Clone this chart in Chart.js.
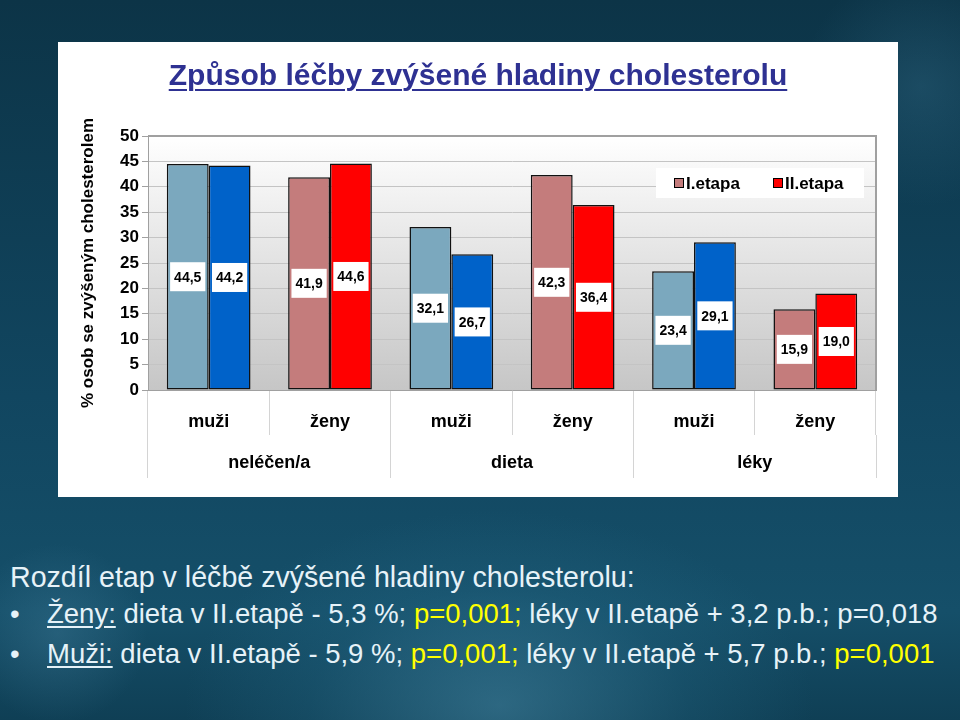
<!DOCTYPE html>
<html>
<head>
<meta charset="utf-8">
<script src="https://cdn.jsdelivr.net/npm/chart.js@4.4.1/dist/chart.umd.min.js"></script>
<style>
  html, body { margin: 0; padding: 0; }
  body {
    width: 960px; height: 720px; overflow: hidden; position: relative;
    font-family: "Liberation Sans", Arial, sans-serif;
    background:
      radial-gradient(ellipse 420px 260px at 52% 98%, rgba(80,150,180,0.45) 0%, rgba(40,110,140,0.25) 45%, rgba(0,0,0,0) 75%),
      radial-gradient(circle 90px at 6% 88%, rgba(70,130,160,0.35) 0%, rgba(0,0,0,0) 100%),
      radial-gradient(circle 120px at 96% 12%, rgba(60,120,150,0.3) 0%, rgba(0,0,0,0) 100%),
      linear-gradient(180deg, #0c3447 0%, #114660 55%, #154f69 85%, #0f3f55 100%);
  }
  #panel { position: absolute; left: 58px; top: 42px; width: 840px; height: 455px; background: #fff; }
  #title {
    position: absolute; left: 0; top: 16px; width: 100%; text-align: center;
    font: bold 30px "Liberation Sans", Arial, sans-serif; color: #2e3192;
    text-decoration: underline; text-underline-offset: 4px; text-decoration-thickness: 2px;
  }
  #chart { position: absolute; left: 0; top: 0; }
  .note { position: absolute; left: 10px; color: #e6f2f8; font-size: 27.5px; line-height: 32px; white-space: nowrap; }
  .head { font-size: 28.6px; }
  .bullet { position: absolute; left: 0; }
  .txt { position: absolute; left: 37px; }
  .u { text-decoration: underline; text-underline-offset: 3px; }
  .y { color: #ffff00; }
</style>
</head>
<body>
<div id="panel">
  <canvas id="chart" width="840" height="455"></canvas>
  <div id="title">Způsob léčby zvýšené hladiny cholesterolu</div>
</div>
<div class="note head" style="top:561px">Rozdíl etap v léčbě zvýšené hladiny cholesterolu:</div>
<div class="note" style="top:598px"><span class="bullet">•</span><span class="txt"><span class="u">Ženy:</span> dieta v II.etapě - 5,3 %; <span class="y">p=0,001;</span> léky v II.etapě + 3,2 p.b.; p=0,018</span></div>
<div class="note" style="top:638px"><span class="bullet">•</span><span class="txt"><span class="u">Muži:</span> dieta v II.etapě - 5,9 %; <span class="y">p=0,001;</span> léky v II.etapě + 5,7 p.b.; <span class="y">p=0,001</span></span></div>

<script>
// categories: sex within treatment group
const categories = ["muži", "ženy", "muži", "ženy", "muži", "ženy"]
const groups = ["neléčen/a", "dieta", "léky"]
const seriesNames = ["I.etapa", "II.etapa"]

const etapa1 = [44.5, 41.9, 32.1, 42.3, 23.4, 15.9]
const etapa2 = [44.2, 44.6, 26.7, 36.4, 29.1, 19.0]

// men = blue shades, women = red shades
const colors1 = ["#7ba8be", "#c47c7c", "#7ba8be", "#c47c7c", "#7ba8be", "#c47c7c"]
const colors2 = ["#0062c9", "#ff0000", "#0062c9", "#ff0000", "#0062c9", "#ff0000"]
const legendColors = ["#c47c7c", "#ff0000"]

const yTitle = "% osob se zvýšeným cholesterolem"

// gray gradient behind the plot area plus a frame on top/right
const plotBackground = {
  id: "plotBackground",
  beforeDraw(chart) {
    const { ctx, chartArea: a } = chart
    const g = ctx.createLinearGradient(0, a.top, 0, a.bottom)
    g.addColorStop(0, "#ffffff")
    g.addColorStop(1, "#c6c6c6")
    ctx.save()
    ctx.fillStyle = g
    ctx.fillRect(a.left, a.top, a.right - a.left, a.bottom - a.top)
    ctx.restore()
  },
  beforeDatasetsDraw(chart) {
    const { ctx, chartArea: a } = chart
    ctx.save()
    ctx.strokeStyle = "#a0a0a0"
    ctx.lineWidth = 2
    ctx.beginPath()
    ctx.moveTo(a.left, a.top)
    ctx.lineTo(a.right, a.top)
    ctx.lineTo(a.right, a.bottom)
    ctx.stroke()
    ctx.restore()
  }
}

// white boxes with the value in the middle of each bar
const valueBoxes = {
  id: "valueBoxes",
  afterDatasetsDraw(chart) {
    const { ctx } = chart
    ctx.save()
    ctx.font = "bold 14px 'Liberation Sans', Arial, sans-serif"
    ctx.textAlign = "center"
    ctx.textBaseline = "middle"
    chart.data.datasets.forEach((ds, i) => {
      chart.getDatasetMeta(i).data.forEach((bar, j) => {
        const txt = ds.data[j].toFixed(1).replace(".", ",")
        const cy = (bar.y + bar.base) / 2
        const w = ctx.measureText(txt).width + 8
        const h = 29
        ctx.fillStyle = "#ffffff"
        ctx.fillRect(bar.x - w / 2, cy - h / 2, w, h)
        ctx.fillStyle = "#000000"
        ctx.fillText(txt, bar.x, cy + 1)
      })
    })
    ctx.restore()
  }
}

// legend sits inside the plot area, top right
const innerLegend = {
  id: "innerLegend",
  afterDraw(chart) {
    const { ctx, chartArea: a } = chart
    const right = a.right - 12
    const top = a.top + 32
    const w = 208, h = 30
    ctx.save()
    ctx.fillStyle = "#ffffff"
    ctx.fillRect(right - w, top, w, h)
    ctx.font = "bold 17px 'Liberation Sans', Arial, sans-serif"
    ctx.textBaseline = "middle"
    let x = right - w + 18
    seriesNames.forEach((name, i) => {
      ctx.fillStyle = legendColors[i]
      ctx.fillRect(x, top + h / 2 - 5, 10, 10)
      ctx.strokeStyle = "#000"
      ctx.lineWidth = 1
      ctx.strokeRect(x + 0.5, top + h / 2 - 4.5, 9, 9)
      ctx.fillStyle = "#000"
      ctx.fillText(name, x + 12, top + h / 2 + 1)
      x += 99
    })
    ctx.restore()
  }
}

const tickFont = { family: "'Liberation Sans', Arial, sans-serif", weight: "bold" }

new Chart(document.getElementById("chart"), {
  type: "bar",
  data: {
    labels: categories,
    datasets: [
      { label: seriesNames[0], data: etapa1, backgroundColor: colors1, borderColor: "#111", borderWidth: 1.5, borderSkipped: false },
      { label: seriesNames[1], data: etapa2, backgroundColor: colors2, borderColor: "#111", borderWidth: 1.5, borderSkipped: false }
    ]
  },
  options: {
    responsive: false,
    animation: false,
    categoryPercentage: 0.69,
    barPercentage: 1.0,
    layout: { padding: { left: 20, top: 94, right: 22, bottom: 19 } },
    plugins: { legend: { display: false }, tooltip: { enabled: false } },
    scales: {
      y: {
        min: 0, max: 50,
        ticks: { stepSize: 5, color: "#000", padding: 3, font: { ...tickFont, size: 17 } },
        grid: { color: "#c4c4c4", tickLength: 6, tickColor: "#a0a0a0" },
        border: { color: "#a0a0a0" },
        title: { display: true, text: yTitle, color: "#000", padding: 0, font: { ...tickFont, size: 17 } },
        afterFit(s) { s.width = 70 }
      },
      x: {
        grid: { offset: true, drawOnChartArea: false, tickLength: 45, color: "#d4d4d4" },
        border: { color: "#a0a0a0" },
        ticks: { color: "#000", padding: -24, font: { ...tickFont, size: 18 } },
        afterFit(s) { s.height = 45 }
      },
      x2: {
        type: "category",
        position: "bottom",
        labels: groups,
        offset: true,
        grid: { offset: true, drawOnChartArea: false, tickLength: 43, color: "#d4d4d4" },
        border: { display: false },
        ticks: { color: "#000", padding: -26, font: { ...tickFont, size: 18 } },
        afterFit(s) { s.height = 43 }
      }
    }
  },
  plugins: [plotBackground, valueBoxes, innerLegend]
})
</script>
</body>
</html>
